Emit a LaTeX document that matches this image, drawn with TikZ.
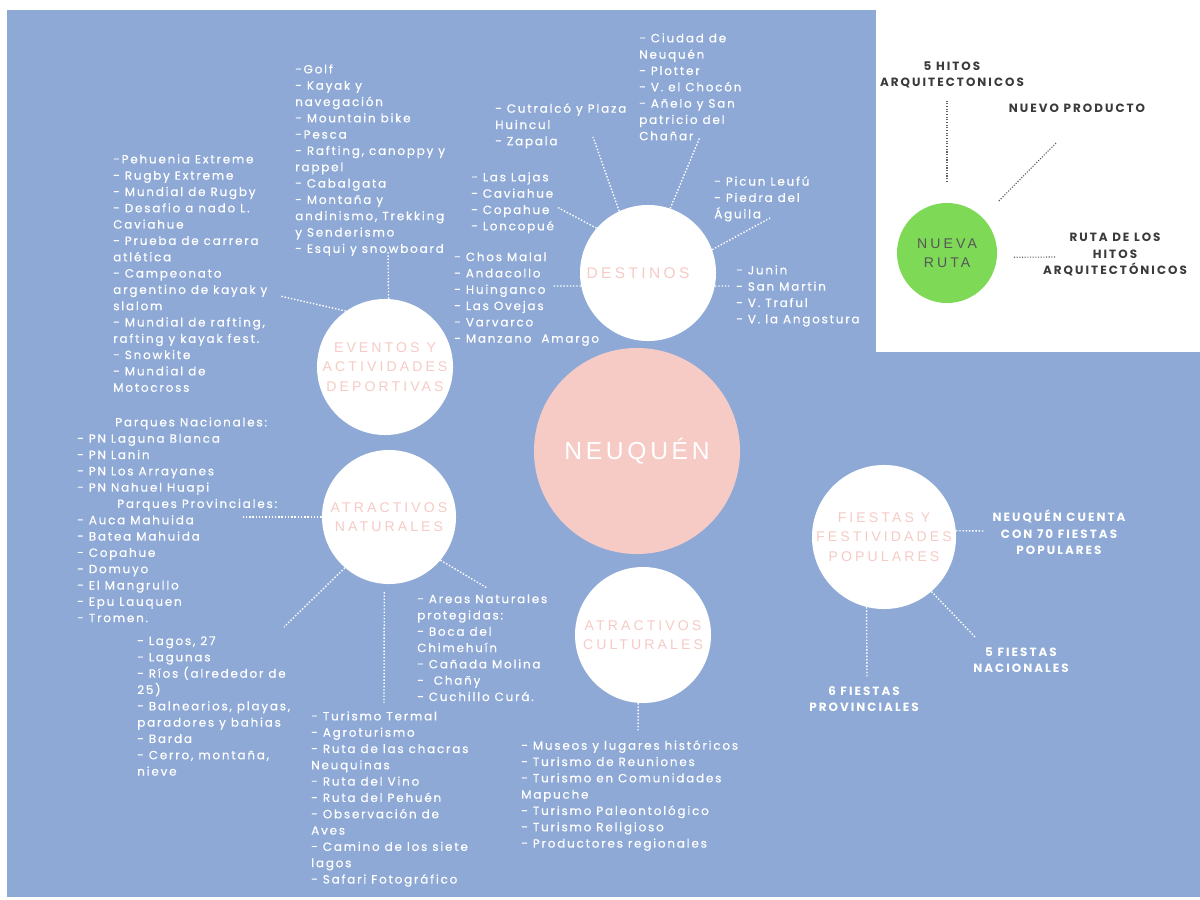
\documentclass[tikz,border=0pt]{standalone}
\usepackage{fontspec}
\setmainfont{Poppins}
\newfontfamily\listfont[LetterSpace=15,FakeBold=0.4]{Poppins}
\newfontfamily\capsfont[LetterSpace=17]{Poppins}
\newfontfamily\titlefont[LetterSpace=22]{Liberation Sans}
\newfontfamily\bigfont[LetterSpace=15]{Liberation Sans}
\usetikzlibrary{positioning}
\definecolor{fondo}{HTML}{8EA9D5}
\definecolor{rosa}{HTML}{F6CBC6}
\definecolor{verde}{HTML}{7ED957}
\definecolor{gris}{HTML}{3A3A3A}

\begin{document}
\begin{tikzpicture}[
        x = 0.025cm,
        y = -0.025cm,
        circulo/.style = {circle, fill=white, minimum size=3.4cm, inner sep=0pt,
            text=rosa, align=center, font=\titlefont\fontsize{10}{13.8}\selectfont},
        lista/.style = {anchor=north west, inner sep=0pt, text=white, align=left,
            font=\listfont\fontsize{8.5}{11.6}\selectfont},
        rotulo/.style = {anchor=north, inner sep=0pt, text=white, align=center,
            font=\capsfont\bfseries\fontsize{8.5}{11.6}\selectfont},
        punteado/.style = {white, line width=1pt, dash pattern=on 1pt off 1.3pt},
        grispunteado/.style = {gris!80, line width=0.8pt, dash pattern=on 0.8pt off 1.1pt}
        ]
        \useasboundingbox (0, 0) rectangle (1200, 899);
        \fill[white] (0, 0) rectangle (1200, 899);
        \fill[fondo] (7, 10) rectangle (1200, 897);
        \fill[white] (876, 10) rectangle (1200, 352);

        % circles
        \node[circle, fill=rosa, minimum size=5.15cm, inner sep=0pt, text=white,
            font=\bigfont\fontsize{17.5}{20}\selectfont] (neuquen) at (637, 451) {NEUQUÉN};
        \node[circulo, font=\titlefont\fontsize{11}{14}\selectfont] (dest) at (648, 273) {DESTINOS\hspace*{0.5cm}};
        \node[circulo] (ev) at (385, 367) {EVENTOS Y\\ACTIVIDADES\\DEPORTIVAS};
        \node[circulo, minimum size=3.35cm] (nat) at (389, 517) {ATRACTIVOS\\NATURALES};
        \node[circulo] (cult) at (643, 635) {ATRACTIVOS\\CULTURALES};
        \node[circulo, minimum size=3.5cm] (fi) at (884, 537) {FIESTAS Y\\FESTIVIDADES\\POPULARES};
        \node[circulo, fill=verde, minimum size=2.5cm, text=gris!85] (nr) at (947, 253) {NUEVA\\RUTA};

        % eventos
        \node[lista] (golf) at (295, 64) {-Golf\\- Kayak y\\navegación\\- Mountain bike\\-Pesca\\- Rafting, canoppy y\\rappel\\- Cabalgata\\- Montaña y\\andinismo, Trekking\\y Senderismo\\- Esqui y snowboard};
        \node[lista] (pehuenia) at (113, 154) {-Pehuenia Extreme\\- Rugby Extreme\\- Mundial de Rugby\\- Desafio a nado L.\\Caviahue\\- Prueba de carrera\\atlética\\- Campeonato\\argentino de kayak y\\slalom\\- Mundial de rafting,\\rafting y kayak fest.\\- Snowkite\\- Mundial de\\Motocross};

        % destinos
        \node[lista] (cutralco) at (495, 103) {- Cutralcó y Plaza\\Huincul\\- Zapala};
        \node[lista] (ciudad) at (639, 33) {- Ciudad de\\Neuquén\\- Plotter\\- V. el Chocón\\- Añelo y San\\patricio del\\Chañar};
        \node[lista] (lajas) at (471, 172) {- Las Lajas\\- Caviahue\\- Copahue\\- Loncopué};
        \node[lista] (picun) at (714, 176) {- Picun Leufú\\- Piedra del\\Águila};
        \node[lista] (chos) at (454, 252) {- Chos Malal\\- Andacollo\\- Huinganco\\- Las Ovejas\\- Varvarco\\- Manzano\ \ Amargo};
        \node[lista] (junin) at (736, 265) {- Junin\\- San Martin\\- V. Traful\\- V. la Angostura};

        % naturales
        \node[lista] (parques) at (77, 417) {\hspace*{0.95cm}Parques Nacionales:\\- PN Laguna Blanca\\- PN Lanin\\- PN Los Arrayanes\\- PN Nahuel Huapi\\\hspace*{1cm}Parques Provinciales:\\- Auca Mahuida\\- Batea Mahuida\\- Copahue\\- Domuyo\\- El Mangrullo\\- Epu Lauquen\\- Tromen.};
        \node[lista] (lagos) at (137, 636) {- Lagos, 27\\- Lagunas\\- Ríos (alrededor de\\25)\\- Balnearios, playas,\\paradores y bahias\\- Barda\\- Cerro, montaña,\\nieve};
        \node[lista] (termal) at (311, 711) {- Turismo Termal\\- Agroturismo\\- Ruta de las chacras\\Neuquinas\\- Ruta del Vino\\- Ruta del Pehuén\\- Observación de\\Aves\\- Camino de los siete\\lagos\\- Safari Fotográfico};
        \node[lista] (areas) at (417, 594) {- Areas Naturales\\protegidas:\\- Boca del\\Chimehuín\\- Cañada Molina\\-\ \ Chañy\\- Cuchillo Curá.};

        % culturales
        \node[lista] (museos) at (521, 740) {- Museos y lugares históricos\\- Turismo de Reuniones\\- Turismo en Comunidades\\Mapuche\\- Turismo Paleontológico\\- Turismo Religioso\\- Productores regionales};

        % fiestas
        \node[rotulo] (cuenta) at (1059, 510) {NEUQUÉN CUENTA\\CON 70 FIESTAS\\POPULARES};
        \node[rotulo] (nacionales) at (1021, 647) {5 FIESTAS\\NACIONALES};
        \node[rotulo] (provinciales) at (864, 686) {6 FIESTAS\\PROVINCIALES};

        % nueva ruta
        \node[rotulo, text=gris] (hitos) at (952, 61) {5 HITOS\\ARQUITECTONICOS};
        \node[rotulo, text=gris] (producto) at (1077, 104) {NUEVO PRODUCTO};
        \node[rotulo, text=gris] (ruta) at (1115, 233) {RUTA DE LOS\\HITOS\\ARQUITECTÓNICOS};

        % free ends
        \coordinate (e1) at (388, 252);
        \coordinate (e2) at (280, 296);
        \coordinate (d1) at (593, 137);
        \coordinate (d2) at (700, 137);
        \coordinate (d3) at (557, 207);
        \coordinate (d4) at (770, 218);
        \coordinate (d5) at (553, 286);
        \coordinate (d6) at (729, 286);
        \coordinate (n1) at (243, 517);
        \coordinate (n2) at (284, 627);
        \coordinate (n3) at (384, 703);
        \coordinate (n4) at (487, 588);
        \coordinate (c1) at (638, 732);
        \coordinate (f1) at (985, 531);
        \coordinate (f2) at (976, 638);
        \coordinate (f3) at (867, 678);
        \coordinate (r1) at (947, 100);
        \coordinate (r2) at (1056, 143);
        \coordinate (r3) at (1056, 257);

        \draw[punteado] (ev.87) -- (e1);
        \draw[punteado] (ev.125) -- (e2);
        \draw[punteado] (dest.115) -- (d1);
        \draw[punteado] (dest.71) -- (d2);
        \draw[punteado] (dest.139) -- (d3);
        \draw[punteado] (dest.20) -- (d4);
        \draw[punteado] (dest.191) -- (d5);
        \draw[punteado] (dest.-11) -- (d6);
        \draw[punteado] (nat.180) -- (n1);
        \draw[punteado] (nat.229) -- (n2);
        \draw[punteado, shorten <=0.2cm] (nat.266) -- (n3);
        \draw[punteado] (nat.-40) -- (n4);
        \draw[punteado] (cult.266) -- (c1);
        \draw[punteado] (fi.5) -- (f1);
        \draw[punteado] (fi.-49) -- (f2);
        \draw[punteado] (fi.-104) -- (f3);
        \draw[grispunteado, shorten <=0.52cm] (nr.north) -- (r1);
        \draw[grispunteado, shorten <=0.58cm] (nr.45) -- (r2);
        \draw[grispunteado, shorten <=0.42cm] (nr.-5) -- (r3);
    \end{tikzpicture}
\end{document}
